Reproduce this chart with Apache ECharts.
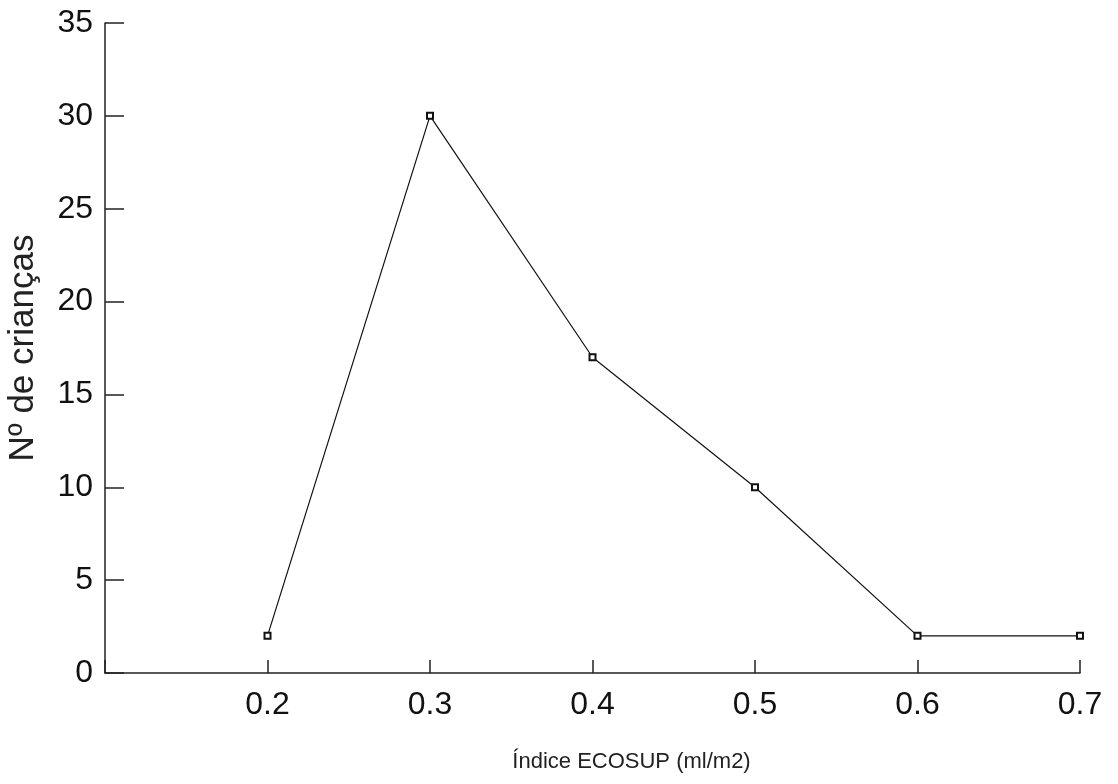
<!DOCTYPE html>
<html>
<head>
<meta charset="utf-8">
<script src="https://cdn.jsdelivr.net/npm/echarts@6/dist/echarts.min.js"></script>
<style>
html,body{margin:0;padding:0;background:#fff;}
#chart{width:1118px;height:784px;}
</style>
</head>
<body>
<div id="chart"></div>
<script>
// Data
const xValues = [0.2, 0.3, 0.4, 0.5, 0.6, 0.7];
const yValues = [2, 30, 17, 10, 2, 2];
const xTitle = 'Índice ECOSUP (ml/m2)';
const yTitle = 'Nº de crianças';

const chart = echarts.init(document.getElementById('chart'));
const axisCol = '#222';
chart.setOption({
  backgroundColor: '#fff',
  animation: false,
  grid: {left: 105, right: 38, top: 23, bottom: 111, containLabel: false, outerBoundsMode: 'none'},
  xAxis: {
    type: 'value', min: 0.1, max: 0.7, interval: 0.1,
    name: xTitle, nameLocation: 'middle', nameGap: 78,
    nameTextStyle: {fontFamily: '"Liberation Sans", Arial, sans-serif', fontSize: 22, color: '#222', padding: [0, 0, 0, 78]},
    axisLine: {show: true, lineStyle: {color: axisCol, width: 1.5}},
    axisTick: {show: true, inside: true, length: 13, lineStyle: {color: axisCol, width: 1.5}},
    axisLabel: {fontFamily: '"Liberation Sans", Arial, sans-serif', fontSize: 32, color: '#111', margin: 16,
      formatter: v => v < 0.15 ? '' : v.toFixed(1)},
    splitLine: {show: false}
  },
  yAxis: {
    type: 'value', min: 0, max: 35, interval: 5,
    name: yTitle, nameLocation: 'middle', nameGap: 64, nameRotate: 90,
    nameTextStyle: {fontFamily: '"Liberation Sans", Arial, sans-serif', fontSize: 35, color: '#222'},
    axisLine: {show: true, lineStyle: {color: axisCol, width: 1.5}},
    axisTick: {show: true, inside: true, length: 19, lineStyle: {color: axisCol, width: 1.5}},
    axisLabel: {fontFamily: '"Liberation Sans", Arial, sans-serif', fontSize: 32, color: '#111', margin: 12},
    splitLine: {show: false}
  },
  series: [{
    type: 'line',
    data: xValues.map((x, i) => [x, yValues[i]]),
    symbol: 'emptyRect', symbolSize: 6,
    lineStyle: {color: '#111', width: 1.2},
    itemStyle: {color: '#111', borderColor: '#111', borderWidth: 1.5}
  }]
});
</script>
</body>
</html>
